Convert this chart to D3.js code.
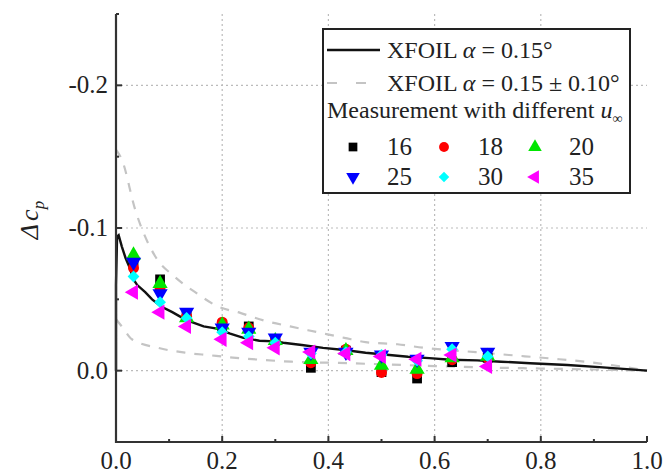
<!DOCTYPE html>
<html>
<meta charset="utf-8">
<head>
  <script src="https://d3js.org/d3.v7.min.js"></script>
</head>
<style>
  body { margin: 0; background: #fff; }
</style>
<body>
<script>
  // XFOIL alpha = 0.15 deg
  var xfoilX = [0.0, 0.0, 0.002, 0.005, 0.011, 0.018, 0.026, 0.033, 0.04, 0.055, 0.068, 0.085, 0.106, 0.125, 0.143, 0.165, 0.19, 0.215, 0.24, 0.27, 0.3, 0.315, 0.35, 0.39, 0.43, 0.47, 0.51, 0.55, 0.59, 0.63, 0.68, 0.725, 0.78, 0.85, 0.91, 0.975, 1.0];
  var xfoilY = [0.0, -0.06, -0.094, -0.095, -0.087, -0.079, -0.072, -0.064, -0.060, -0.055, -0.050, -0.045, -0.041, -0.037, -0.034, -0.031, -0.0295, -0.026, -0.023, -0.021, -0.0205, -0.0196, -0.018, -0.016, -0.0145, -0.0126, -0.0112, -0.0098, -0.0088, -0.0077, -0.0072, -0.0063, -0.0052, -0.004, -0.0025, -0.0007, 0.0];
  // XFOIL alpha = 0.15 +/- 0.10 deg
  var upperX = [0.0, 0.011, 0.036, 0.074, 0.11, 0.149, 0.192, 0.234, 0.28, 0.328, 0.379, 0.43, 0.47, 0.53, 0.58, 0.66, 0.74, 0.82, 0.89, 0.95, 1.0];
  var upperY = [-0.155, -0.148, -0.113, -0.080, -0.066, -0.055, -0.045, -0.0405, -0.035, -0.031, -0.027, -0.023, -0.020, -0.0185, -0.016, -0.0135, -0.011, -0.0085, -0.006, -0.003, 0.0];
  var lowerX = [0.0, 0.013, 0.03, 0.079, 0.13, 0.177, 0.22, 0.27, 0.33, 0.42, 0.5, 0.6, 0.7, 0.8, 0.9, 1.0];
  var lowerY = [-0.036, -0.030, -0.022, -0.016, -0.0126, -0.0108, -0.0092, -0.0077, -0.0063, -0.0054, -0.0045, -0.0032, -0.0022, -0.0015, -0.0008, 0.0];

  // measurements
  var measX = [0.033, 0.083, 0.133, 0.2, 0.25, 0.3, 0.367, 0.433, 0.5, 0.567, 0.633, 0.7];
  var speeds = ["16", "18", "20", "25", "30", "35"];
  var meas16 = [-0.077, -0.064, -0.040, -0.031, -0.031, -0.021, -0.002, -0.014, 0.001, 0.0055, -0.006, -0.009];
  var meas18 = [-0.072, -0.058, -0.038, -0.034, -0.030, -0.021, -0.0056, -0.015, 0.0012, 0.002, -0.0077, -0.009];
  var meas20 = [-0.081, -0.061, -0.037, -0.032, -0.029, -0.021, -0.0077, -0.014, -0.0038, -0.001, -0.009, -0.010];
  var meas25 = [-0.076, -0.054, -0.041, -0.030, -0.027, -0.023, -0.013, -0.013, -0.011, -0.008, -0.017, -0.013];
  var meas30 = [-0.066, -0.048, -0.037, -0.027, -0.024, -0.0196, -0.012, -0.013, -0.011, -0.007, -0.015, -0.010];
  var meas35 = [-0.055, -0.041, -0.031, -0.022, -0.0196, -0.016, -0.013, -0.012, -0.010, -0.008, -0.011, -0.003];
  var measAll = [meas16, meas18, meas20, meas25, meas30, meas35];

  var xTicks = [0.0, 0.2, 0.4, 0.6, 0.8, 1.0];
  var yTicks = [-0.2, -0.1, 0.0];

  var colors = ["#000000", "#ff0000", "#00e600", "#0000ff", "#00ffff", "#ff00ff"];
  var shapes = [d3.symbolSquare, d3.symbolCircle, d3.symbolTriangle, d3.symbolTriangle, d3.symbolSquare, d3.symbolTriangle];
  var rotations = [0, 0, 0, 180, 45, -90];
  var sizes = [95, 95, 100, 100, 70, 100];

  var w = 664, h = 474;
  var plotL = 116, plotR = 647, plotT = 14, plotB = 442;

  var svg = d3.select("body").append("svg")
    .attr("width", w)
    .attr("height", h)
    .attr("font-family", "'Liberation Serif', 'DejaVu Serif', serif")
    .attr("fill", "#222");

  var x = d3.scaleLinear().domain([0, 1]).range([plotL, plotR]);
  var y = d3.scaleLinear().domain([-0.25, 0.05]).range([plotT, plotB]);

  // grid
  svg.selectAll("line.vgrid")
    .data([0.2, 0.4, 0.6, 0.8])
    .enter().append("line")
    .attr("x1", d => x(d)).attr("x2", d => x(d))
    .attr("y1", plotT).attr("y2", plotB)
    .attr("stroke", "#bbb").attr("stroke-width", 1.2)
    .attr("stroke-dasharray", "2,3");
  svg.selectAll("line.hgrid")
    .data(yTicks)
    .enter().append("line")
    .attr("x1", plotL).attr("x2", plotR)
    .attr("y1", d => y(d)).attr("y2", d => y(d))
    .attr("stroke", "#bbb").attr("stroke-width", 1.2)
    .attr("stroke-dasharray", "2,3");

  // curves
  var line = d3.line().x(d => x(d[0])).y(d => y(d[1]));
  svg.append("path")
    .datum(d3.zip(upperX, upperY))
    .attr("d", line.curve(d3.curveMonotoneX))
    .attr("fill", "none").attr("stroke", "#c4c4c4")
    .attr("stroke-width", 2.2).attr("stroke-dasharray", "9,9");
  svg.append("path")
    .datum(d3.zip(lowerX, lowerY))
    .attr("d", line.curve(d3.curveMonotoneX))
    .attr("fill", "none").attr("stroke", "#c4c4c4")
    .attr("stroke-width", 2.2).attr("stroke-dasharray", "9,9");
  svg.append("path")
    .datum(d3.zip(xfoilX, xfoilY))
    .attr("d", line.curve(d3.curveLinear))
    .attr("fill", "none").attr("stroke", "#111")
    .attr("stroke-width", 2.4);

  // measurement markers
  measAll.forEach(function(vals, i) {
    svg.selectAll("path.m" + i)
      .data(vals)
      .enter().append("path")
      .attr("class", "m" + i)
      .attr("d", d3.symbol().type(shapes[i]).size(sizes[i]))
      .attr("transform", (d, j) => "translate(" + x(measX[j]) + "," + y(d) + ") rotate(" + rotations[i] + ")")
      .attr("fill", colors[i]);
  });

  // axes
  svg.append("line")
    .attr("x1", plotL).attr("x2", plotL).attr("y1", plotT).attr("y2", plotB + 1)
    .attr("stroke", "#333").attr("stroke-width", 2.2);
  svg.append("line")
    .attr("x1", plotL - 1).attr("x2", plotR).attr("y1", plotB).attr("y2", plotB)
    .attr("stroke", "#333").attr("stroke-width", 2.2);

  // x ticks
  svg.selectAll("line.xt")
    .data(xTicks)
    .enter().append("line")
    .attr("x1", d => x(d)).attr("x2", d => x(d))
    .attr("y1", plotB).attr("y2", plotB - 6)
    .attr("stroke", "#333").attr("stroke-width", 2);
  svg.selectAll("line.xm")
    .data([0.1, 0.3, 0.5, 0.7, 0.9])
    .enter().append("line")
    .attr("x1", d => x(d)).attr("x2", d => x(d))
    .attr("y1", plotB).attr("y2", plotB - 3)
    .attr("stroke", "#333").attr("stroke-width", 2);
  svg.selectAll("text.xl")
    .data(xTicks)
    .enter().append("text")
    .attr("x", d => x(d)).attr("y", plotB + 27)
    .attr("text-anchor", "middle")
    .style("font-size", "25px")
    .text(d => d3.format(".1f")(d));

  // y ticks
  svg.selectAll("line.yt")
    .data(yTicks)
    .enter().append("line")
    .attr("x1", plotL).attr("x2", plotL + 6)
    .attr("y1", d => y(d)).attr("y2", d => y(d))
    .attr("stroke", "#333").attr("stroke-width", 2);
  svg.selectAll("line.ym")
    .data([-0.25, -0.15, -0.05, 0.05])
    .enter().append("line")
    .attr("x1", plotL).attr("x2", plotL + 3)
    .attr("y1", d => y(d)).attr("y2", d => y(d))
    .attr("stroke", "#333").attr("stroke-width", 2);
  svg.selectAll("text.yl")
    .data(yTicks)
    .enter().append("text")
    .attr("x", plotL - 8).attr("y", d => y(d) + 8)
    .attr("text-anchor", "end")
    .style("font-size", "25px")
    .text(d => d3.format(".1f")(d).replace("−", "-"));

  // y label
  var yl = svg.append("text")
    .attr("transform", "translate(38,220) rotate(-90)")
    .attr("text-anchor", "middle")
    .style("font-size", "26px");
  yl.append("tspan").style("font-style", "italic").text("Δ");
  yl.append("tspan").style("font-style", "italic").attr("dx", 3).text("c");
  yl.append("tspan").style("font-style", "italic").style("font-size", "17px").attr("dy", 6).text("p");

  // legend
  var lg = svg.append("g");
  lg.append("rect")
    .attr("x", 323).attr("y", 29).attr("width", 307).attr("height", 164)
    .attr("fill", "#fff").attr("stroke", "#222").attr("stroke-width", 2);
  lg.append("line")
    .attr("x1", 327).attr("x2", 380).attr("y1", 50).attr("y2", 50)
    .attr("stroke", "#111").attr("stroke-width", 2.4);
  lg.append("line")
    .attr("x1", 327).attr("x2", 380).attr("y1", 83).attr("y2", 83)
    .attr("stroke", "#c4c4c4").attr("stroke-width", 2.2).attr("stroke-dasharray", "10,19");

  var t1 = lg.append("text").attr("x", 387).attr("y", 58).style("font-size", "24px");
  t1.append("tspan").text("XFOIL ");
  t1.append("tspan").style("font-style", "italic").text("α");
  t1.append("tspan").text(" = 0.15°");
  var t2 = lg.append("text").attr("x", 387).attr("y", 91).style("font-size", "24px");
  t2.append("tspan").text("XFOIL ");
  t2.append("tspan").style("font-style", "italic").text("α");
  t2.append("tspan").text(" = 0.15 ± 0.10°");
  var t3 = lg.append("text").attr("x", 327).attr("y", 118).style("font-size", "24px");
  t3.append("tspan").text("Measurement with different ");
  t3.append("tspan").style("font-style", "italic").text("u");
  t3.append("tspan").style("font-size", "14px").attr("dy", 5).text("∞");

  var legX = [353, 444, 535];
  var legY = [147, 177];
  speeds.forEach(function(s, i) {
    var cx = legX[i % 3], cy = legY[Math.floor(i / 3)];
    lg.append("path")
      .attr("d", d3.symbol().type(shapes[i]).size(sizes[i] * 0.8))
      .attr("transform", "translate(" + cx + "," + cy + ") rotate(" + rotations[i] + ")")
      .attr("fill", colors[i]);
    lg.append("text")
      .attr("x", cx + 34).attr("y", cy + 8)
      .style("font-size", "25px")
      .text(s);
  });
</script>
</body>
</html>
